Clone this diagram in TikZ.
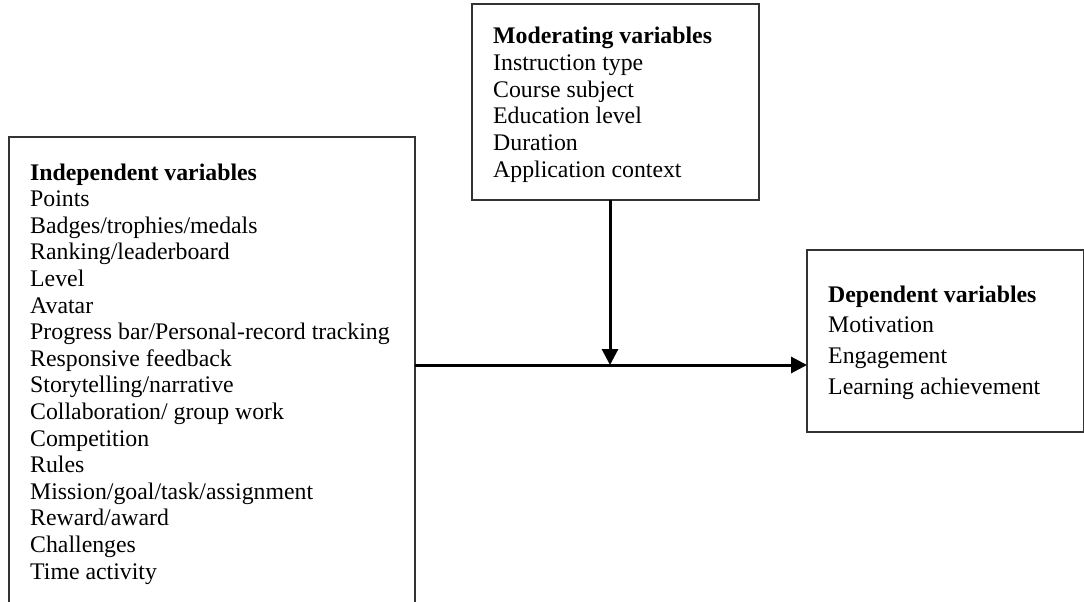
\documentclass[tikz,border=0pt]{standalone}
\usepackage{fontspec}
\setmainfont{Liberation Serif}
\usetikzlibrary{arrows.meta}
\begin{document}
\begin{tikzpicture}[x=1pt,y=-1pt,
  box/.style={draw=black!80,line width=1.5pt,anchor=north west,inner sep=0pt,outer sep=0pt},
  txt/.style={anchor=base west,inner sep=0pt,font=\fontsize{23.8}{26}\selectfont},
  hd/.style={txt,font=\fontsize{23.8}{26}\selectfont\bfseries},
  arr/.style={line width=3pt,-{Triangle[length=16pt,width=16pt]}}]
\clip (0,0) rectangle (1084,602);
\node[box,minimum width=406pt,minimum height=472pt] (ind) at (9,137) {};
\node[box,minimum width=287pt,minimum height=196pt] (mod) at (472,4) {};
\node[box,minimum width=277pt,minimum height=182pt] (dep) at (807,250) {};
% independent
\node[hd] (indh) at (30,180) {Independent variables};
\foreach \t [count=\i] in {Points,Badges/trophies/medals,Ranking/leaderboard,Level,Avatar,Progress bar/Personal-record tracking,Responsive feedback,Storytelling/narrative,Collaboration/ group work,Competition,Rules,Mission/goal/task/assignment,Reward/award,Challenges,Time activity}
  \node[txt] (ind\i) at (30,180+26.6*\i) {\t};
% moderating
\node[hd] (modh) at (493,44) {Moderating variables};
\foreach \t [count=\i] in {Instruction type,Course subject,Education level,Duration,Application context}
  \node[txt] (mod\i) at (493,44+26.6*\i) {\t};
% dependent
\node[hd] (deph) at (828,302) {Dependent variables};
\foreach \t [count=\i] in {Motivation,Engagement,Learning achievement}
  \node[txt] (dep\i) at (828,301+31.2*\i) {\t};
% connectors
\coordinate (j) at (610,365);
\draw[arr] (ind.east |- j) -- (dep.west |- j);
\draw[arr] (mod.south -| j) -- (j);
\end{tikzpicture}
\end{document}
